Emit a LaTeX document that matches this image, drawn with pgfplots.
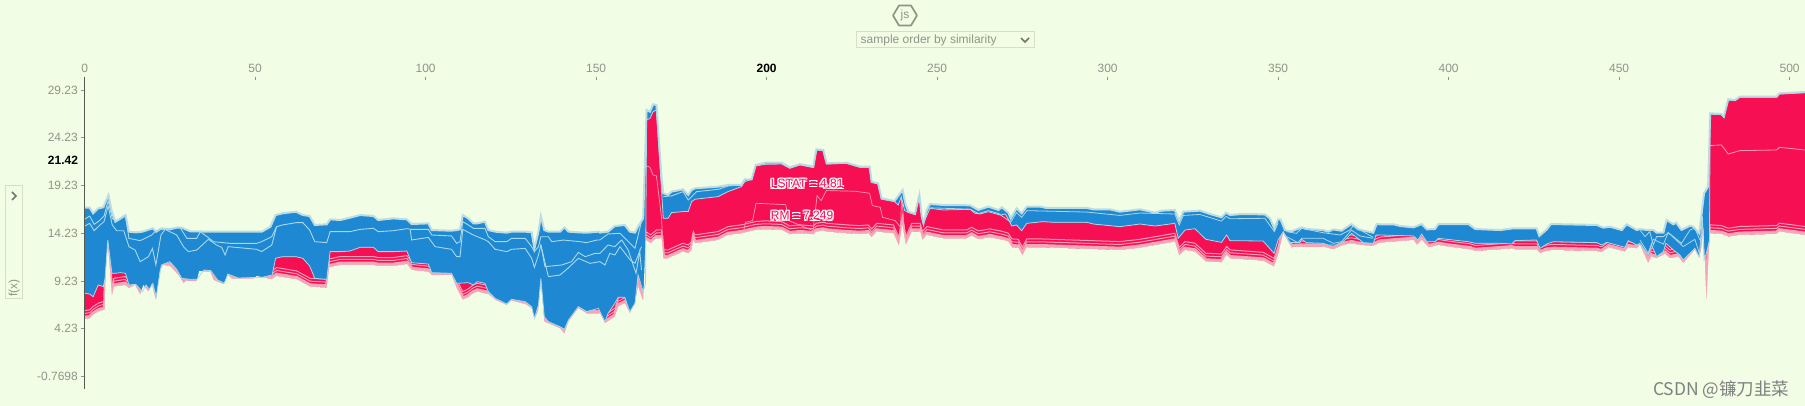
\documentclass[border=0pt]{standalone}
\usepackage{fontspec}
\setmainfont{Liberation Sans}
\newfontfamily\cjk{Noto Sans CJK SC}
\usepackage{pgfplots}
\usepackage{pgfplotstable}
\pgfplotsset{compat=1.18}
\definecolor{bgc}{HTML}{F2FDE5}
\definecolor{sblue}{HTML}{1E88D2}
\definecolor{sred}{HTML}{F60F52}
\definecolor{lblue}{HTML}{BEDDE2}
\definecolor{wline}{HTML}{A9D8E8}
\definecolor{lpink}{HTML}{F6A6B8}
\definecolor{pline}{HTML}{FA9DB6}
\definecolor{tickg}{HTML}{8F9488}
\definecolor{boxc}{HTML}{D5DEC6}
% upper edge of the whole band
\pgfplotstableread[row sep=\\]{
x y\\
0 16.91\\1.5 16.91\\2.5 16.32\\4 16.84\\5.5 16.95\\7 18.24\\8 16.49\\9 15.45\\10.5 15.79\\12 16.14\\13 14.40\\15 14.33\\17 14.40\\19 14.64\\20 14.75\\21 14.40\\22.5 14.75\\25 14.64\\27 14.82\\28.5 14.82\\31 14.43\\39 14.40\\52 14.40\\54.5 14.92\\56 16.14\\58 16.32\\62 16.49\\64 16.14\\66 16.04\\67.5 15.10\\71 15.17\\72 15.69\\75 15.62\\77.8 15.86\\80.8 16.14\\84.7 16.04\\86.1 15.62\\90.5 15.79\\94.5 15.69\\95.9 15.20\\100.8 15.27\\101.8 14.57\\107.6 14.50\\109.1 14.57\\110.1 14.64\\110.9 16.14\\112.5 15.79\\114 15.27\\115.2 15.27\\117.4 15.45\\118.4 14.57\\120.4 14.40\\123.8 14.29\\125.2 14.40\\129.2 14.40\\131.1 14.33\\131.9 12.65\\133.1 14.40\\133.8 16.04\\134.8 14.57\\136 14.40\\139.4 14.40\\140.7 14.85\\141.9 14.40\\144.8 14.33\\147.2 14.29\\150.7 14.40\\
151.1 14.30\\153.5 14.40\\155.5 14.99\\158.4 15.10\\159.9 14.40\\161.4 14.30\\162.3 14.92\\163.8 15.80\\164.8 27.14\\165.8 26.96\\166.7 27.73\\167.7 27.66\\169.2 20.0\\169.7 18.41\\171.1 18.24\\172.1 18.59\\175.5 18.83\\177 18.24\\178 18.76\\179 18.94\\185.8 19.11\\188.7 19.29\\192.6 19.29\\193.6 19.88\\195.6 19.88\\196.8 21.38\\199.5 21.62\\204.4 21.62\\206.8 21.14\\209.8 21.48\\213.7 21.21\\214.6 23.02\\216.6 22.95\\217.6 21.55\\223.4 21.62\\227.3 21.21\\230.2 21.2\\230.8 19.63\\232.7 19.46\\233.7 17.89\\237.5 17.61\\239.9 18.76\\240.8 17.19\\241.6 16.49\\243.5 16.25\\244.8 18.24\\245.5 15.97\\246 15.27\\247 16.67\\247.9 17.29\\252 17.19\\259.7 17.16\\262.1 16.67\\265 17.02\\268 16.67\\269 16.95\\270.9 16.39\\271.6 15.79\\273.3 16.84\\274.8 16.32\\276.3 17.02\\280.2 17.02\\282.1 16.88\\293.9 16.88\\295.8 16.74\\300.7 16.74\\303.6 16.49\\
309.5 16.74\\313.9 16.39\\315.8 16.60\\319.7 16.67\\321 15.55\\322.2 16.49\\327.1 16.60\\330 16.25\\333.4 15.90\\334.7 16.39\\335.9 16.14\\339.3 16.25\\346.1 16.21\\347.6 15.79\\348.9 14.75\\350 15.69\\350.7 15.69\\352 14.57\\353.5 14.43\\354.4 14.50\\356.9 14.85\\358.3 14.68\\363.2 14.57\\364.7 14.40\\366.2 14.64\\368.6 14.50\\371.5 15.20\\373.5 14.64\\377.9 14.29\\378.9 15.20\\379.9 15.17\\383.8 15.17\\385.8 14.99\\389.7 14.85\\392.1 15.20\\393.6 14.64\\396 14.68\\397 15.20\\405.8 15.20\\407.8 14.68\\415.1 14.57\\419 14.75\\425.8 14.75\\426.6 13.95\\428.8 14.64\\430 15.20\\443.4 15.10\\445.4 14.82\\447.3 14.92\\450.8 14.57\\452.2 15.17\\455.2 14.57\\
456.1 14.68\\458 14.58\\460 14.58\\461 14.30\\463 14.30\\463.9 15.63\\465.9 15.17\\466.7 15.35\\468.3 14.58\\470.8 15.03\\471.7 14.93\\473.5 14.23\\474.2 16.32\\474.9 18.42\\476.1 19.12\\476.7 26.79\\480 26.72\\480.7 26.44\\482 28.26\\484 28.19\\485.4 28.54\\496.2 28.54\\497 28.88\\504.5 29.02\\
}\Ttab
% border between the red and the blue stack
\pgfplotstableread[row sep=\\]{
x y\\
0 7.94\\1.5 7.87\\2.5 7.59\\4 8.82\\5.5 8.64\\6 9.51\\6.8 13.53\\8 10.04\\9 10.04\\10.5 10.11\\12 10.04\\13 8.82\\15 8.89\\17 8.12\\18 8.82\\19 8.36\\20 8.99\\21 7.59\\22.5 10.91\\25 11.26\\27 10.46\\28.5 9.51\\31 9.41\\33 9.41\\35 10.39\\37 10.32\\39 9.34\\41 8.99\\42 9.97\\45 9.55\\52 9.62\\55 9.86\\56 11.61\\58 11.78\\62 11.78\\64 11.61\\66 10.81\\67.5 9.51\\71 9.41\\72 12.31\\75 12.31\\77.8 12.37\\80.8 12.76\\84.7 12.76\\86.1 12.31\\90.5 12.31\\94.5 12.37\\95.9 11.15\\100.8 11.01\\101.8 10.11\\107.6 10.04\\109.1 8.99\\112.5 9.06\\114 8.82\\115.2 9.17\\117.4 8.99\\118.4 8.12\\120.4 7.42\\123.8 6.83\\125.2 7.32\\129.2 7.07\\131.1 6.55\\131.9 5.33\\133.1 6.72\\133.8 9.51\\134.8 5.50\\136 4.98\\139.4 4.45\\140.7 4.18\\141.9 5.15\\144.8 6.55\\147.2 6.03\\150.7 6.37\\
151.1 6.03\\152.6 4.98\\153.5 5.85\\155.5 6.90\\156.5 7.53\\158.4 7.53\\159.9 6.03\\161.4 6.90\\162.3 9.87\\163.8 8.12\\164.5 9\\164.8 26.09\\165.8 26.26\\166.7 26.96\\167.7 27.14\\169.7 15.80\\171.1 15.80\\172.1 16.39\\175.5 16.50\\177 16.50\\178 17.54\\179 17.79\\185.8 18.07\\188.7 18.59\\192.6 19.11\\193.6 19.64\\195.6 19.88\\196.8 21.27\\199.5 21.45\\204.4 21.48\\206.8 21.03\\209.8 21.38\\213.7 21.10\\214.6 22.95\\216.6 22.88\\217.6 21.48\\223.4 21.55\\227.3 21.14\\230.2 21.1\\230.8 19.55\\232.7 19.4\\233.7 17.8\\237.5 17.55\\238.6 17.19\\239.5 18.06\\240.5 16.6\\241.6 16.4\\243.5 16.2\\244.8 18.2\\245.5 15.9\\246 15.27\\247.9 16.84\\251.8 16.67\\259.7 16.74\\261.1 16.32\\262.6 16.25\\265 16.49\\268.5 16.14\\270 16.25\\270.9 15.69\\271.9 14.99\\273.3 15.10\\274.8 14.50\\276.3 15.27\\281 15.45\\284 15.38\\293.9 15.38\\295.8 15.20\\303.6 14.92\\
309.5 15.20\\313.9 14.99\\319.7 15.27\\320.7 13.70\\322.7 14.57\\325.6 14.71\\328.8 13.60\\333.4 13.28\\334.9 14.05\\335.9 13.46\\345.6 13.42\\348.8 12.13\\350 13.53\\351.5 14.40\\353.5 13.25\\356.4 13.25\\356.9 13.60\\358.3 13.25\\363.2 13.18\\364.7 13.00\\366.9 13.00\\369.1 13.35\\371.5 14.22\\374 13.53\\375 13.25\\377.9 13.18\\378.7 14.05\\379.9 14.05\\389.7 13.95\\391 13.53\\392.1 14.15\\393.6 13.35\\396 13.35\\397 13.70\\405.8 13.35\\407.8 13.18\\415.1 13.18\\418.5 13.11\\419.5 13.46\\425.8 13.53\\426.8 12.65\\428.8 13.11\\430.7 13.35\\443.4 13.25\\444.9 13.00\\446.4 13.28\\451.7 12.76\\452.7 13.46\\455.2 13.00\\
456.1 13.18\\458.5 11.96\\459.5 13.01\\461 11.79\\463 12.31\\463.7 13.18\\465.9 12.49\\467.8 11.96\\468.8 11.44\\472.2 12.66\\473.5 11.79\\474.4 16\\474.9 11.5\\475.6 12.14\\476.5 13.53\\476.7 26.70\\480 26.65\\480.7 26.36\\482 28.18\\484 28.11\\485.4 28.46\\496.2 28.46\\497 28.8\\504.5 28.94\\
}\Rtab
% lower edge of the whole band
\pgfplotstableread[row sep=\\]{
x y\\
0 5.26\\1.5 5.33\\2.5 5.68\\4 6.03\\5.5 6.20\\5.9 6.20\\6.2 10.04\\6.8 13.0\\7.4 10.39\\8 7.60\\8.6 8.64\\11.85 8.82\\13 8.47\\14.8 8.82\\16.3 7.77\\17.2 8.82\\18.7 8.12\\19.7 8.92\\20.9 7.18\\22.1 10.39\\23.1 10.91\\25 10.81\\27.5 9.86\\29 8.99\\29.9 9.27\\32.9 9.27\\33.6 10.28\\36.8 10.21\\37.8 9.34\\40.7 8.89\\42 9.86\\43.1 9.51\\49.5 9.51\\50.5 9.76\\54.9 9.41\\56.3 9.76\\62.2 9.41\\66.1 8.64\\71 8.54\\71.8 10.67\\74.9 10.91\\77.8 10.91\\84.7 10.91\\86.1 10.81\\90.5 10.81\\94.5 11.01\\95.9 10.39\\100.8 10.21\\101.8 9.86\\107.6 9.86\\109.1 8.47\\110.9 7.25\\112.5 7.53\\114 7.94\\115.2 8.12\\117.4 7.94\\118.4 7.87\\120.4 7.25\\123.8 6.72\\125.2 7.18\\129.2 6.83\\131.1 6.37\\131.9 5.22\\133 6.03\\133.8 8.99\\134.8 4.98\\136 4.80\\139.4 4.28\\140.7 3.69\\141.9 4.98\\144.8 6.37\\147.2 5.85\\150.7 5.85\\
151.1 5.85\\152.6 4.81\\155.5 5.50\\156.5 6.55\\158.4 6.90\\159.9 5.85\\161.4 6.90\\162.3 8.64\\163.8 7.07\\164.5 13.53\\166 13.18\\167.7 13.70\\169.2 13.70\\169.7 11.61\\171.1 11.61\\172.1 11.78\\175.5 12.31\\177 12.13\\178 12.48\\178.5 13.53\\179 13.18\\185.8 13.53\\188.7 14.05\\192.6 14.23\\196.8 14.58\\199.5 14.65\\204.4 14.58\\206.8 14.12\\209.8 14.23\\213.7 14.12\\214.6 14.40\\216.6 14.51\\217.6 14.40\\223.4 14.23\\227.3 14.15\\229.8 14.22\\230.8 13.81\\232.3 14.40\\237.2 14.22\\238.8 12.90\\239.8 15.10\\240.8 13.00\\242.6 14.40\\245 14.40\\245.7 13.53\\247 14.05\\251.8 13.70\\258.7 13.70\\260.1 13.98\\262.1 13.60\\265.5 13.81\\269.4 13.53\\270.9 13.35\\271.9 12.76\\273.8 12.72\\275 11.89\\276.3 12.76\\280.2 12.76\\303.6 12.48\\
309.5 12.72\\319.7 13.35\\321 11.89\\322.7 12.48\\325.6 12.31\\328.8 11.26\\333.4 11.19\\334.9 11.96\\335.9 11.61\\345.6 11.36\\348.8 10.73\\350 11.96\\351.5 14.22\\353.9 12.76\\356.9 12.83\\363.2 12.83\\366.2 12.55\\369.1 13.0\\371.5 13.18\\374 13.0\\377.9 12.93\\379.9 13.25\\389.7 13.53\\390.7 13.00\\392.1 13.53\\394.1 12.76\\397 13.00\\400 12.83\\406.3 12.55\\407.8 12.37\\415.1 12.55\\418.5 12.65\\419.5 12.55\\425.8 12.55\\426.8 12.13\\428.8 12.41\\430.7 12.48\\443.4 12.37\\444.9 12.24\\446.9 12.76\\451.7 12.31\\452.7 12.76\\455.2 12.65\\
456.1 13.01\\458.5 11.09\\459.5 11.79\\461 11.61\\463.4 12.07\\464.9 11.61\\467.3 11.79\\468.8 11.09\\472.2 12.49\\473.5 11.61\\474.2 12.84\\474.7 14.93\\475.6 6.83\\476.3 12.14\\476.7 14.23\\480 14.16\\482 13.88\\485.4 14.06\\496.2 14.16\\497 14.41\\504.5 14.06\\
}\Btab
\newcommand{\halo}[1]{%
  \foreach \dx in {-1.2,0,1.2}{\foreach \dy in {-1.2,0,1.2}{%
    \node[text=white,inner sep=0pt,anchor=base west] at ([xshift=\dx pt,yshift=\dy pt]\currentpos) {#1};}}}
\begin{document}
\begin{tikzpicture}[x=1pt,y=1pt]
\fill[bgc] (0,0) rectangle (1805,408);
\begin{axis}[
  at={(84.6pt,19pt)},anchor=south west,
  scale only axis,width=1720.4pt,height=312pt,
  xmin=0,xmax=504.5,ymin=-2.07,ymax=30.59,
  axis x line*=top,axis y line*=left,
  x axis line style={draw=none,-},y axis line style={draw=tickg!60!black,line width=0.55pt,-},
  axis on top,
  xtick={0,50,100,150,200,250,300,350,400,450,500},
  xticklabels={0,50,100,150,{\textcolor{black}{\bfseries 200}},250,300,350,400,450,500},
  ytick={-0.7698,4.23,9.23,14.23,19.23,24.23,29.23},
  yticklabels={-0.7698,4.23,9.23,14.23,19.23,24.23,29.23},
  tick label style={font=\fontsize{12}{14}\selectfont,text=tickg},
  xtick style={draw=tickg,line width=0.8pt,/pgfplots/major tick length=3.5pt},
  ytick style={draw=tickg,line width=0.8pt,/pgfplots/major tick length=4pt},
  xtick align=inside,ytick align=outside,
  xticklabel style={yshift=1pt},
  yticklabel style={xshift=1pt},
  clip=true,
  minor tick num=0,
]
% red stack, filled down to a floor under the band
\addplot[draw=none,fill=sred] table[x=x,y=y]{\Rtab} -- (axis cs:504.5,1) -- (axis cs:0,1) -- cycle;
% stripes of the small red features
\addplot[pline,line width=1pt] table[x=x,y expr=\thisrow{y}+0.58]{\Btab};
\addplot[pline,line width=1pt] table[x=x,y expr=\thisrow{y}+0.88]{\Btab};
\addplot[lpink,line width=3.4pt] table[x=x,y expr=\thisrow{y}+0.17]{\Btab};
% pink lines inside the red stack
\addplot[pline,line width=0.7pt] coordinates {(164.8,21.27)(165.8,21.14)(166.7,20.33)(167.7,20.23)(169.2,15.8)(169.7,11.78)};
\addplot[pline,line width=0.7pt] coordinates {(193.2,14.33)(193.8,15.38)(195.9,15.56)(196.9,17.37)(205.6,17.23)(206.5,15.56)(213.6,14.51)(214.8,18.17)(216,17.65)(217.5,18.70)(225.9,18.63)(230.2,18.42)(231,17.13)(233.3,16.95)(234,15.9)(237.7,15.56)(239.3,14.86)(239.6,18.35)(240.4,14.51)};
\addplot[pline,line width=0.8pt] coordinates {(476.7,23.41)(480,23.48)(482,22.53)(485.4,22.88)(496.2,22.95)(497,23.23)(504.5,22.95)};
% blue stack, filled up to a roof over the band
\addplot[draw=none,fill=sblue] table[x=x,y=y]{\Rtab} -- (axis cs:504.5,30) -- (axis cs:0,30) -- cycle;
% background above and below the band
\addplot[draw=none,fill=bgc] table[x=x,y=y]{\Ttab} -- (axis cs:506,31) -- (axis cs:-2,31) -- cycle;
\addplot[draw=none,fill=bgc] table[x=x,y=y]{\Btab} -- (axis cs:506,-3) -- (axis cs:-2,-3) -- cycle;
% edges
\addplot[lblue,line width=2pt] table[x=x,y=y]{\Ttab};
\addplot[wline,line width=0.8pt] table[x=x,y=y]{\Rtab};
% pale lines inside the blue stack
\addplot[wline,line width=0.9pt] coordinates {(0,15.69)(1.5,16.04)(2.8,15.17)(4,15.45)(5.7,16.04)(6.9,17.64)(8.1,15.79)(9.4,15.45)(12,16.04)(13,13.70)(16.3,13.46)(19.7,14.05)(21,14.50)(22.5,14.64)(28,14.82)(30,13.70)(32.9,13.70)(33.9,14.40)(36.2,13.80)(37.8,13.35)(42.6,13.18)(50.5,13.18)(51.9,13.35)(54.9,13.88)(56.3,14.92)(58,15.10)(62,15.34)(64,15.34)(66,14.57)(67.5,13.35)(71,13.25)(72,14.40)(77.8,14.40)(80.8,14.64)(84.7,14.75)(86.1,14.40)(90.5,14.50)(94.5,14.71)(95.9,14.64)(100.8,14.64)(101.8,14.05)(107.6,13.95)(109.1,13.18)(110.1,13.35)(110.9,15.45)(112.5,15.10)(114,14.75)(117.4,14.75)(118.4,13.87)(120.4,13.35)(123.8,13.35)(125.2,13.70)(129.2,13.70)(131.1,12.83)(131.9,12.31)(133.1,12.83)(133.8,13.87)(136,13.87)(137,13.35)(140.4,13.52)(145.3,13.35)(147.2,13.25)(150.2,13.52)(151.1,13.53)(153.5,14.16)(157,14.23)(161.4,12.66)(163.3,15.45)};
\addplot[wline,line width=0.9pt] coordinates {(0,14.99)(1.5,15.27)(2.8,14.50)(4.5,15.10)(5.7,15.45)(6.9,17.09)(8.1,15.10)(9.4,14.50)(11.5,14.50)(13,12.83)(14.8,12.48)(16.3,11.26)(18.7,11.78)(19.9,12.65)(20.9,10.91)(22.4,14.05)(23.6,14.64)(27,14.05)(29,12.83)(30.4,12.31)(32.9,12.48)(36.3,13.60)(38.7,13.0)(40.2,12.76)(41.2,11.96)(42.1,12.83)(50.5,12.55)(51.9,12.31)(54.9,13.0)(56.3,14.92)};
\addplot[wline,line width=0.9pt] coordinates {(95.5,14.6)(95.9,13.53)(100.8,13.80)(102.8,12.83)(107.6,12.55)(109.1,11.78)(110.1,11.78)(110.9,14.64)(114,14.05)(117.5,13.53)(118.4,13.35)(120.4,12.55)(123.8,12.31)(125.2,12.55)(129.2,12.65)(131.1,11.61)(131.9,10.66)(133.1,11.96)(133.8,13.0)(135,10.74)(139.9,10.91)(142.8,11.26)(144.8,12.23)(146.8,11.78)(149.7,12.13)(151.1,12.13)(153.5,13.0)(155.5,12.83)(157.5,13.53)(159.4,12.48)(161.7,10.04)(162.8,12.31)(163.3,10.39)};
\addplot[wline,line width=0.9pt] coordinates {(133.8,13.0)(136,9.69)(139.4,9.86)(141.4,10.46)(144.8,11.61)(148.2,11.08)(151.1,11.26)(152.6,10.91)(154,12.13)(155.5,11.96)(157,12.83)(160,11.44)(161.4,11.09)(163.3,12.83)};
\addplot[wline,line width=0.9pt] coordinates {(169.7,18.07)(172.1,18.14)(175.5,18.59)(177,17.72)(179.5,18.59)(185.8,18.83)(188.7,19.18)(192.6,19.29)};
\addplot[wline,line width=0.8pt] coordinates {(247.9,16.9)(259.7,16.75)(262.1,16.3)(265,16.6)(268,16.3)(271.6,15.4)(273.3,16.4)(274.8,15.9)(276.3,16.6)(293.9,16.45)(303.6,16.1)(309.5,16.35)(319.7,16.25)(321,15.1)(322.2,16.1)(327.1,16.2)(333.4,15.5)(334.7,16)(335.9,15.75)(346.1,15.8)(348.9,14.4)(350,15.3)};
\addplot[wline,line width=0.8pt] coordinates {(352.5,14.4)(355.4,14.22)(356.9,14.75)(363.2,14.29)(368.2,14.05)(371,14.57)(372,15.0)(377.9,13.8)};
\addplot[wline,line width=0.8pt] coordinates {(352.5,13.88)(355.8,13.25)(356.9,13.7)(363.2,13.7)(366.2,13.18)(368.6,13.35)(371.5,14.57)(374,13.95)(377.9,13.7)};
\addplot[wline,line width=0.8pt] coordinates {(456.1,14.58)(457.6,13.88)(459,14.4)(460,13.01)(461,13.88)(463,13.88)(464.4,14.3)(465.9,13.88)(468.3,13.18)(470.8,14.58)(472.2,14.76)(473.7,13.53)};
\addplot[wline,line width=0.8pt] coordinates {(456.1,13.53)(458.5,12.14)(460,13.6)(463,13.1)(464.4,14.3)(468.8,12.84)(472.2,13.6)(473.7,11.96)};
\end{axis}
% the current value beside the y axis
\node[anchor=east,inner sep=0pt,font=\fontsize{12}{14}\selectfont\bfseries,text=black] at (78.2,248) {21.42};
% hexagon logo
\draw[tickg,line width=1.7pt,line join=round] (893,392.5) -- (899,402.5) -- (911,402.5) -- (917,392.5) -- (911,382.5) -- (899,382.5) -- cycle;
\node[text=tickg,inner sep=0pt,font=\fontsize{12}{14}\selectfont] at (905,392.5) {js};
% select box
\draw[boxc,line width=1pt] (856.5,360) rectangle (1034.5,376.5);
\node[anchor=west,inner sep=0pt,text=tickg,font=\fontsize{12}{14}\selectfont] at (860.5,368) {sample order by similarity};
\draw[tickg!80!black,line width=1.6pt] (1021,370) -- (1025,366) -- (1029,370);
% f(x) tab
\draw[boxc,line width=1pt] (5,109) rectangle (22.7,222);
\draw[tickg!80!black,line width=1.6pt] (12,216) -- (16,212) -- (12,208);
\node[rotate=90,inner sep=0pt,text=tickg,font=\fontsize{12}{14}\selectfont] at (14.3,120) {f(x)};
% feature labels
\def\currentpos{770.7,220}
\halo{\fontsize{12}{14}\selectfont LSTAT = 4.81}
\node[text=sred,inner sep=0pt,anchor=base west,font=\fontsize{12}{14}\selectfont] at (770.7,220) {LSTAT = 4.81};
\def\currentpos{770.7,188}
\halo{\fontsize{12}{14}\selectfont RM = 7.249}
\node[text=sred,inner sep=0pt,anchor=base west,font=\fontsize{12}{14}\selectfont] at (770.7,188) {RM = 7.249};
% watermark
\node[anchor=east,inner sep=0pt,text=gray,font=\cjk\fontsize{17.5}{20}\selectfont] at (1789.5,18) {CSDN @镰刀韭菜};
\pgfresetboundingbox
\path[use as bounding box] (0,2) rectangle (1805,408);
\end{tikzpicture}
\end{document}
